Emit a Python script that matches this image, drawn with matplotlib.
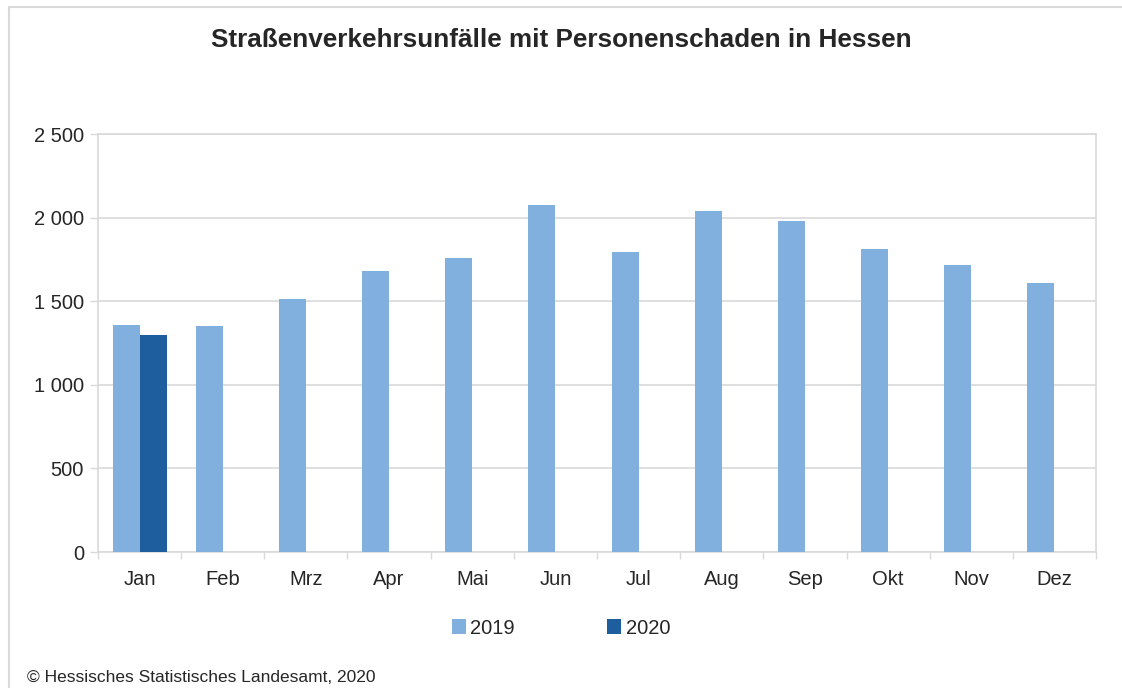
import numpy as np
import matplotlib.pyplot as plt
from matplotlib.patches import Rectangle

plt.rcParams['font.family'] = ['Liberation Sans', 'DejaVu Sans']

monate = ['Jan', 'Feb', 'Mrz', 'Apr', 'Mai', 'Jun', 'Jul', 'Aug', 'Sep', 'Okt', 'Nov', 'Dez']
werte_2019 = [1356, 1349, 1513, 1680, 1758, 2075, 1794, 2038, 1978, 1810, 1718, 1611]
werte_2020 = [1297]
jahre = ['2019', '2020']
farben = ['#81B0DF', '#1F5E9E']

fig = plt.figure(figsize=(11.22, 6.88), dpi=100)
ax = fig.add_axes([98 / 1122, 1 - 552 / 688, 998 / 1122, 418 / 688])

x = np.arange(len(monate))
w = 0.325
ax.bar(x - w / 2, werte_2019, width=w, color=farben[0], label=jahre[0], zorder=3)
ax.bar(x[:len(werte_2020)] + w / 2, werte_2020, width=w, color=farben[1], label=jahre[1], zorder=3)

ax.set_xlim(-0.5, len(monate) - 0.5)
ax.set_ylim(0, 2500)
ax.set_yticks(range(0, 2501, 500))
ax.set_yticklabels([f'{v:,}'.replace(',', ' ') for v in range(0, 2501, 500)], fontsize=14.5, color='#262626')
ax.set_xticks(x)
ax.set_xticklabels(monate, fontsize=14.5, color='#262626')
ax.set_xticks(np.arange(-0.5, len(monate)), minor=True)
ax.tick_params(axis='x', which='major', length=0, pad=13)
ax.tick_params(axis='x', which='minor', length=5, color='#D9D9D9', width=1)
ax.tick_params(axis='y', length=6, color='#D9D9D9', width=1, pad=4)
ax.grid(axis='y', color='#D9D9D9', linewidth=1.2, zorder=0)
for s in ['left', 'right', 'top', 'bottom']:
    ax.spines[s].set_color('#D9D9D9')
    ax.spines[s].set_linewidth(1.2)

fig.text(0.5, 1 - 40 / 688, 'Straßenverkehrsunfälle mit Personenschaden in Hessen',
         ha='center', va='center', fontsize=18.8, fontweight='bold', color='#262626')

fig.legend(loc='center', bbox_to_anchor=(0.5, 1 - 628 / 688), ncol=2, frameon=False,
           fontsize=14.5, handlelength=0.7, handleheight=0.7, handletextpad=0.2,
           columnspacing=4.6, labelcolor='#262626')

fig.text(27 / 1122, 1 - 678 / 688, '© Hessisches Statistisches Landesamt, 2020',
         ha='left', va='center', fontsize=12.5, color='#262626')

fig.patches.append(Rectangle((9 / 1122, -0.01), 1.1, 1 - 7 / 688 + 0.01, transform=fig.transFigure,
                             fill=False, edgecolor='#D9D9D9', linewidth=1.5))

fig.savefig('out.png', dpi=100)
